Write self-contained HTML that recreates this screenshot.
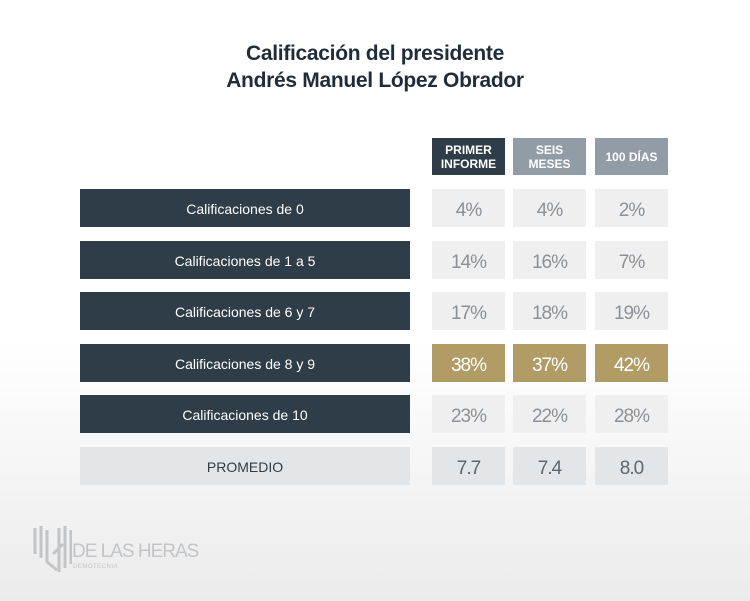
<!DOCTYPE html>
<html><head><style>
body{margin:0;width:750px;height:601px;overflow:hidden;font-family:"Liberation Sans",sans-serif;background:linear-gradient(#fff 0,#fff 340px,#ebebeb 601px);position:relative}
.t{position:absolute;left:0;width:750px;text-align:center;top:40px;font-weight:bold;font-size:21px;line-height:27px;color:#1f2d3a;letter-spacing:-0.3px}
.b{position:absolute;display:flex;align-items:center;justify-content:center;text-align:center;box-sizing:border-box}
.h{top:138px;height:37px;width:73px;color:#fff;font-weight:bold;font-size:12px;line-height:14px;background:#929ca6}
.l{left:80px;width:330px;height:38px;background:#2e3d47;color:#fff;font-size:14px;padding-top:2px}
.v{width:73px;height:38px;background:#efefef;color:#8a9198;font-size:19px;padding-top:5px;letter-spacing:-1px}
.g{background:#b19c65;color:#fff}
</style></head><body>
<div class="t">Calificación del presidente<br>Andrés Manuel López Obrador</div>
<div class="b h" style="left:432px;background:#2e3d47">PRIMER<br>INFORME</div>
<div class="b h" style="left:513px">SEIS<br>MESES</div>
<div class="b h" style="left:595px">100 DÍAS</div>

<div class="b l" style="top:189px">Calificaciones de 0</div>
<div class="b v" style="left:432px;top:189px">4%</div><div class="b v" style="left:513px;top:189px">4%</div><div class="b v" style="left:595px;top:189px">2%</div>

<div class="b l" style="top:241px">Calificaciones de 1 a 5</div>
<div class="b v" style="left:432px;top:241px">14%</div><div class="b v" style="left:513px;top:241px">16%</div><div class="b v" style="left:595px;top:241px">7%</div>

<div class="b l" style="top:292px">Calificaciones de 6 y 7</div>
<div class="b v" style="left:432px;top:292px">17%</div><div class="b v" style="left:513px;top:292px">18%</div><div class="b v" style="left:595px;top:292px">19%</div>

<div class="b l" style="top:344px">Calificaciones de 8 y 9</div>
<div class="b v g" style="left:432px;top:344px">38%</div><div class="b v g" style="left:513px;top:344px">37%</div><div class="b v g" style="left:595px;top:344px">42%</div>

<div class="b l" style="top:395px">Calificaciones de 10</div>
<div class="b v" style="left:432px;top:395px">23%</div><div class="b v" style="left:513px;top:395px">22%</div><div class="b v" style="left:595px;top:395px">28%</div>

<div class="b l" style="top:447px;background:#e3e6e9;color:#2e3d47">PROMEDIO</div>
<div class="b v" style="left:432px;top:447px;background:#e3e6e9;color:#5e666e">7.7</div><div class="b v" style="left:513px;top:447px;background:#e3e6e9;color:#5e666e">7.4</div><div class="b v" style="left:595px;top:447px;background:#e3e6e9;color:#5e666e">8.0</div>

<svg style="position:absolute;left:32px;top:524px" width="40" height="50">
<g stroke="#c2c5c8" stroke-width="3" fill="none">
<path d="M3 4V30M9 2V34M15 6V38L25 46M21 30L31 20M27 4V48M33 2V44M39 6V40"/>
</g></svg>
<div style="position:absolute;left:72px;top:541px;font-size:19px;color:#c2c5c8;letter-spacing:-1px">DE LAS HERAS</div>
<div style="position:absolute;left:73px;top:564px;font-size:6px;color:#c2c5c8;letter-spacing:0.5px">DEMOTECNIA</div>
</body></html>
